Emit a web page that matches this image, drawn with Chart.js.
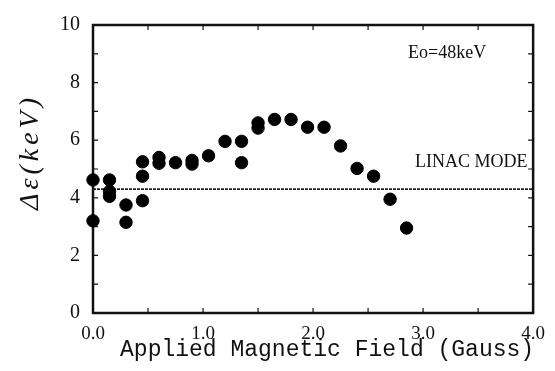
<!DOCTYPE html>
<html lang="en">
<head>
    <meta charset="UTF-8" />
    <title>Energy spread vs applied field</title>
    <script src="https://cdn.jsdelivr.net/npm/chart.js"></script>
    <style>
        body {
          margin: 0;
          background: white;
        }
        canvas {
          display: block;
        }
    </style>
</head>
<body>

<canvas id="fieldChart" width="555" height="371"></canvas>

<script>
    // measured points: applied field (Gauss) vs energy spread (keV)
    const fieldValues = [0.0, 0.0, 0.15, 0.15, 0.15, 0.30, 0.30, 0.45, 0.45, 0.45,
                         0.60, 0.60, 0.75, 0.90, 0.90, 1.05, 1.20, 1.35, 1.35,
                         1.50, 1.50, 1.65, 1.80, 1.95, 2.10, 2.25, 2.40, 2.55, 2.70, 2.85];
    const spreadValues = [4.62, 3.2, 4.62, 4.22, 4.05, 3.75, 3.15, 5.25, 4.75, 3.9,
                          5.4, 5.2, 5.22, 5.3, 5.17, 5.46, 5.96, 5.96, 5.22,
                          6.6, 6.42, 6.72, 6.72, 6.45, 6.45, 5.8, 5.02, 4.75, 3.95, 2.95];

    // linac mode reference level
    const linacField = [0, 4];
    const linacSpread = [4.3, 4.3];

    const xTickLabels = ['0.0', '1.0', '2.0', '3.0', '4.0'];
    const yTickLabels = [0, 2, 4, 6, 8, 10];

    const frameAndNotes = {
      id: 'frameAndNotes',
      beforeDatasetsDraw(chart) {
        const ctx = chart.ctx;
        const { left, right, top, bottom } = chart.chartArea;
        const x = chart.scales.x;
        const y = chart.scales.y;

        ctx.save();
        ctx.strokeStyle = '#111';
        ctx.lineWidth = 2.5;
        ctx.strokeRect(left, top, right - left, bottom - top);

        // inward tick marks on all four sides
        ctx.lineWidth = 1.2;
        ctx.beginPath();
        x.ticks.forEach(t => {
          const px = x.getPixelForValue(t.value);
          ctx.moveTo(px, bottom); ctx.lineTo(px, bottom - 5);
          ctx.moveTo(px, top); ctx.lineTo(px, top + 5);
        });
        y.ticks.forEach(t => {
          const py = y.getPixelForValue(t.value);
          ctx.moveTo(left, py); ctx.lineTo(left + 5, py);
          ctx.moveTo(right, py); ctx.lineTo(right - 5, py);
        });
        ctx.stroke();
        ctx.restore();
      },
      afterDraw(chart) {
        const ctx = chart.ctx;
        const x = chart.scales.x;
        ctx.save();
        ctx.fillStyle = '#111';

        ctx.textBaseline = 'alphabetic';
        ctx.textAlign = 'left';
        ctx.font = '18px "Liberation Serif"';
        ctx.fillText('Eo=48keV', 408, 58);
        ctx.fillText('LINAC MODE', 415, 167);

        // x axis title
        ctx.font = '23px "Liberation Mono"';
        ctx.textAlign = 'center';
        ctx.fillText('Applied Magnetic Field (Gauss)', x.getPixelForValue(2) + 14, 356);

        // y axis title
        ctx.translate(31, 152);
        ctx.rotate(-Math.PI / 2);
        ctx.font = 'italic 28px "Liberation Serif"';
        ctx.letterSpacing = '4px';
        ctx.textBaseline = 'middle';
        ctx.fillText('\u0394\u03b5(keV)', 0, 0);
        ctx.restore();
      }
    };

    new Chart(document.getElementById('fieldChart').getContext('2d'), {
      type: 'scatter',
      data: {
        datasets: [
          {
            label: 'Energy spread',
            data: fieldValues.map((f, i) => ({ x: f, y: spreadValues[i] })),
            backgroundColor: '#000',
            borderColor: '#000',
            pointRadius: 6.2,
            clip: false
          },
          {
            label: 'LINAC MODE',
            type: 'line',
            data: linacField.map((f, i) => ({ x: f, y: linacSpread[i] })),
            borderColor: '#222',
            borderWidth: 1.8,
            borderDash: [3, 1],
            pointRadius: 0
          }
        ]
      },
      options: {
        responsive: false,
        animation: false,
        devicePixelRatio: 1,
        layout: { padding: { top: 18, right: 20, left: 0, bottom: 0 } },
        plugins: {
          legend: { display: false },
          tooltip: { enabled: false }
        },
        scales: {
          x: {
            type: 'linear',
            min: 0,
            max: 4,
            grid: { display: false, drawTicks: false },
            border: { display: false },
            afterFit: s => { s.height = 58; },
            ticks: {
              stepSize: 0.5,
              padding: 10,
              color: '#111',
              font: { family: 'Liberation Serif', size: 19 },
              maxRotation: 0,
              autoSkip: false,
              callback: v => {
                const lbl = v.toFixed(1);
                return xTickLabels.includes(lbl) ? lbl : '';
              }
            }
          },
          y: {
            min: 0,
            max: 10,
            grid: { display: false, drawTicks: false },
            border: { display: false },
            afterFit: s => { s.width = 93; },
            ticks: {
              stepSize: 1,
              padding: 13,
              color: '#111',
              font: { family: 'Liberation Serif', size: 20 },
              autoSkip: false,
              callback: v => yTickLabels.includes(v) ? v : ''
            }
          }
        }
      },
      plugins: [frameAndNotes]
    });
</script>

</body>
</html>
